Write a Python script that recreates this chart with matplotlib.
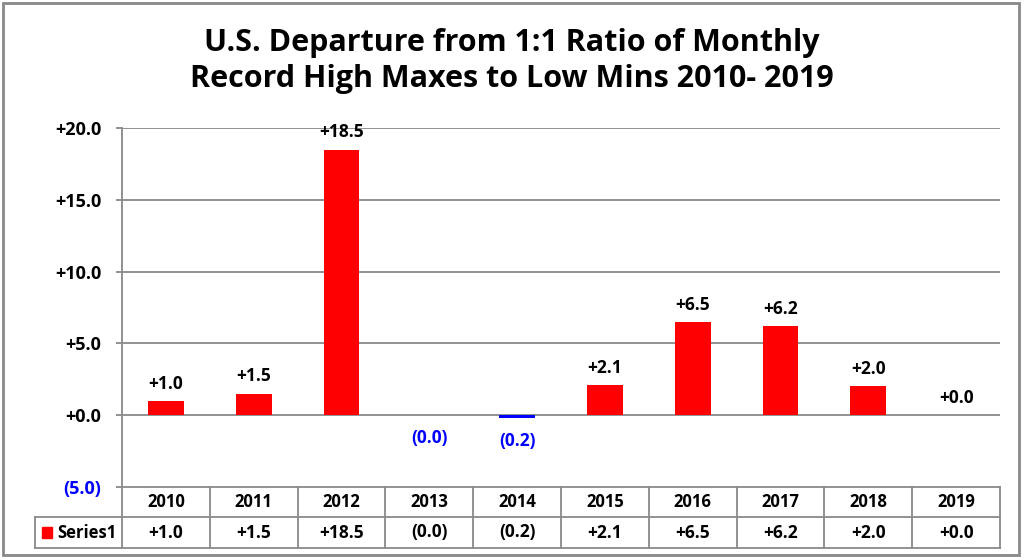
import matplotlib
matplotlib.use("Agg")
import matplotlib.pyplot as plt
from matplotlib.patches import Rectangle
import matplotlib.transforms as mtransforms

years = ["2010", "2011", "2012", "2013", "2014", "2015", "2016", "2017", "2018", "2019"]
values = [1.0, 1.5, 18.5, -0.01, -0.2, 2.1, 6.5, 6.2, 2.0, 0.0]
yticks = [-5, 0, 5, 10, 15, 20]
series_name = "Series1"

def fmt(v):
    if v < 0:
        return "({:.1f})".format(abs(v))
    return "+{:.1f}".format(abs(v))

plt.rcParams['font.family'] = ['Open Sans', 'DejaVu Sans']
FW = 1024; FH = 560
fig = plt.figure(figsize=(FW/100, FH/100), dpi=100)

def fx(px): return px / FW
def fy(py): return 1 - py / FH

L, R, T, B = 122, 1000, 128, 487
ax = fig.add_axes([fx(L), fy(B), fx(R) - fx(L), fy(T) - fy(B)])
x = list(range(len(years)))
colors = ["#FF0000" if v >= 0 else "#0000FF" for v in values]
ax.bar(x, values, width=0.41, color=colors, zorder=3)
ax.set_xlim(-0.5, len(years) - 0.5)
ax.set_ylim(-5, 20)
ax.set_yticks(yticks)
ax.set_yticklabels([fmt(v) for v in yticks], fontsize=13, fontweight='bold')
for lab, v in zip(ax.get_yticklabels(), yticks):
    lab.set_color('#0000FF' if v < 0 else 'black')
ax.tick_params(axis='y', length=4.3, width=1.3, color='#898989', pad=10.5)
ax.set_xticks([])
for s in ['top', 'right', 'bottom']:
    ax.spines[s].set_visible(False)
ax.spines['left'].set_color('#898989')
ax.spines['left'].set_linewidth(1.3)
for v in yticks:
    if v >= 0:
        ax.axhline(v, color='#898989', lw=1.3, zorder=1)

for xi, v in zip(x, values):
    if v >= 0:
        ax.annotate(fmt(v), (xi, v), xytext=(0, 6), textcoords='offset points',
                    ha='center', va='bottom', fontsize=12.5, fontweight='bold', color='black')
    else:
        ax.annotate(fmt(v), (xi, v), xytext=(0, -10), textcoords='offset points',
                    ha='center', va='top', fontsize=12.5, fontweight='bold', color='#0000FF')

# data table
trans = mtransforms.blended_transform_factory(ax.transData, fig.transFigure)
row1_top, row1_bot, row2_bot = fy(487), fy(517), fy(548)
lc = '#898989'
for yy in (row1_top, row1_bot, row2_bot):
    ax.plot([-0.5, len(years) - 0.5], [yy, yy], transform=trans, color=lc, lw=1.3, clip_on=False)
for i in range(len(years) + 1):
    ax.plot([i - 0.5, i - 0.5], [row1_top, row2_bot], transform=trans, color=lc, lw=1.3, clip_on=False)
# legend cell
fig.add_artist(plt.Line2D([fx(35), fx(L)], [row1_bot, row1_bot], color=lc, lw=1.3))
fig.add_artist(plt.Line2D([fx(35), fx(L)], [row2_bot, row2_bot], color=lc, lw=1.3))
fig.add_artist(plt.Line2D([fx(35), fx(35)], [row1_bot, row2_bot], color=lc, lw=1.3))
for xi, yr, v in zip(x, years, values):
    ax.text(xi, (row1_top + row1_bot) / 2, yr, transform=trans, ha='center', va='center',
            fontsize=12, fontweight='bold')
    ax.text(xi, (row1_bot + row2_bot) / 2, fmt(v), transform=trans, ha='center', va='center',
            fontsize=12.5, fontweight='bold')
fig.add_artist(Rectangle((fx(42), fy(538)), fx(10), fy(527) - fy(538), transform=fig.transFigure,
                         color='#FF0000'))
fig.text(fx(57), (row1_bot + row2_bot) / 2, series_name, ha='left', va='center', fontsize=12, fontweight='bold')

fig.text(0.5, fy(61), "U.S. Departure from 1:1 Ratio of Monthly\nRecord High Maxes to Low Mins 2010- 2019",
         ha='center', va='center', fontsize=22, fontweight='bold', linespacing=1.25)

# outer frame
fig.add_artist(Rectangle((fx(3), fy(555)), fx(1016), fy(3) - fy(555), transform=fig.transFigure,
                         fill=False, edgecolor='#898989', lw=2))

fig.savefig("out.png", dpi=100)
